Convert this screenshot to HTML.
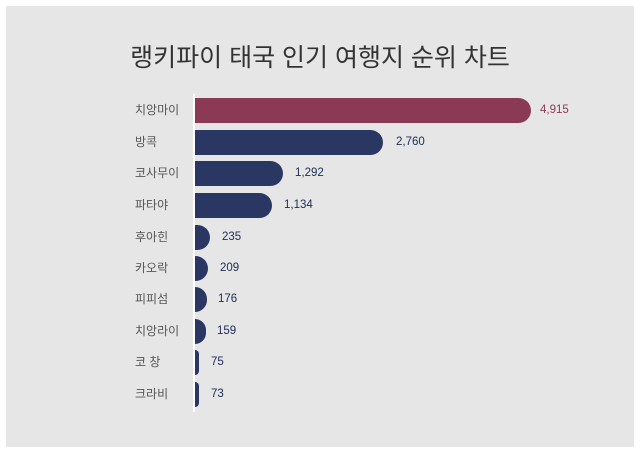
<!DOCTYPE html>
<html><head><meta charset="utf-8"><style>
body{margin:0;width:640px;height:453px;background:#fff;font-family:"Liberation Sans","Noto Sans CJK KR",sans-serif;position:relative;overflow:hidden}
.bg{position:absolute;left:6px;top:6px;width:628px;height:441px;background:#e6e6e6}
.t{position:absolute;left:0;width:640px;top:38px;text-align:center;font-size:25px;color:#333}
.ax{position:absolute;left:193px;top:94px;width:2px;height:318px;background:#fff}
.l{position:absolute;left:135px;font-size:12px;color:#555;line-height:16px}
.b{position:absolute;left:195px;height:25px;background:#2b3763;border-radius:0 12.5px 12.5px 0}
.v{position:absolute;font-size:11.5px;color:#1f2a55;line-height:16px}
</style></head><body>
<div class="bg"></div>
<div class="t">랭키파이 태국 인기 여행지 순위 차트</div>
<div class="ax"></div>

<div class="l" style="top:102px">치앙마이</div><div class="b" style="top:98px;width:336px;background:#8b3a56"></div><div class="v" style="top:102px;left:540px;color:#8b3a56">4,915</div>
<div class="l" style="top:134px">방콕</div><div class="b" style="top:130px;width:188px"></div><div class="v" style="top:134px;left:396px">2,760</div>
<div class="l" style="top:165px">코사무이</div><div class="b" style="top:161px;width:88px"></div><div class="v" style="top:165px;left:295px">1,292</div>
<div class="l" style="top:197px">파타야</div><div class="b" style="top:193px;width:77px"></div><div class="v" style="top:197px;left:284px">1,134</div>
<div class="l" style="top:229px">후아힌</div><div class="b" style="top:225px;width:15px"></div><div class="v" style="top:229px;left:222px">235</div>
<div class="l" style="top:260px">카오락</div><div class="b" style="top:256px;width:13px"></div><div class="v" style="top:260px;left:220px">209</div>
<div class="l" style="top:291px">피피섬</div><div class="b" style="top:287px;width:12px"></div><div class="v" style="top:291px;left:218px">176</div>
<div class="l" style="top:323px">치앙라이</div><div class="b" style="top:319px;width:11px"></div><div class="v" style="top:323px;left:217px">159</div>
<div class="l" style="top:354px">코 창</div><div class="b" style="top:350px;width:4px"></div><div class="v" style="top:354px;left:211px">75</div>
<div class="l" style="top:386px">크라비</div><div class="b" style="top:382px;width:4px"></div><div class="v" style="top:386px;left:211px">73</div>
</body></html>
